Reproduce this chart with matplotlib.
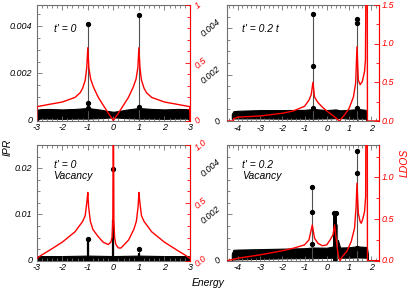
import numpy as np
import matplotlib
matplotlib.use("Agg")
import matplotlib.pyplot as plt
from matplotlib.ticker import MultipleLocator

plt.rcParams['font.family'] = ['Liberation Sans', 'DejaVu Sans']
plt.rcParams['font.style'] = 'italic'

# ---- panel (a): t' = 0 ----
e_ld_a = [-3.0, -2.99, -2.5, -2.0, -1.5, -1.3, -1.2, -1.1, -1.04, -1.0, -0.96, -0.89, -0.78,
          -0.59, -0.39, -0.2, 0.0, 0.2, 0.39, 0.59, 0.78, 0.89, 0.96, 1.0, 1.04, 1.1, 1.2,
          1.3, 1.5, 2.0, 2.5, 2.99, 3.0]
ld_a = [0.0, 0.12, 0.14, 0.16, 0.20, 0.24, 0.28, 0.35, 0.46, 0.63, 0.46, 0.36, 0.29,
        0.20, 0.13, 0.065, 0.0, 0.065, 0.13, 0.20, 0.29, 0.36, 0.46, 0.63, 0.46, 0.35, 0.28,
        0.24, 0.20, 0.16, 0.14, 0.12, 0.0]
e_band_a = [-3.0, -2.95, -2.5, -2.0, -1.5, -1.0, -0.5, -0.2, 0.0, 0.2, 0.5, 1.0, 1.5, 2.0, 2.5, 2.95, 3.0]
hi_a = [0.0003, 0.00048, 0.00049, 0.00047, 0.00049, 0.00053, 0.00046, 0.0004, 0.00037,
        0.0004, 0.00046, 0.00053, 0.00049, 0.00047, 0.00049, 0.00048, 0.0003]
lo_a = [0.0, 0.00008, 0.00008, 0.00007, 0.00008, 0.00008, 0.0001, 0.00012, 0.00013,
        0.00012, 0.0001, 0.00008, 0.00008, 0.00007, 0.00008, 0.00008, 0.0]
spk_e_a = [-1.0, 1.0]
spk_v_a = [0.00408, 0.00449]
dot_e_a = [-1.0, -1.0, -1.0, 1.0, 1.0, -3.0, 3.0]
dot_v_a = [0.00408, 0.00074, 0.00055, 0.00449, 0.00058, 0.0001, 0.0001]

# ---- panel (b): t' = 0.2 t ----
e_ld_b = [-4.5, -4.2, -4.19, -4.0, -3.0, -2.0, -1.5, -1.0, -0.8, -0.7, -0.62, -0.55, -0.4,
          -0.2, 0.0, 0.3, 0.57, 0.8, 1.0, 1.2, 1.3, 1.36, 1.42, 1.5, 1.6, 1.7, 1.74, 1.76,
          1.78, 1.82, 1.83, 2.35]
ld_b = [0.0, 0.0, 0.03, 0.05, 0.065, 0.10, 0.13, 0.19, 0.27, 0.34, 0.50, 0.31, 0.24,
        0.18, 0.13, 0.065, 0.0, 0.08, 0.16, 0.31, 0.49, 0.96, 0.53, 0.47, 0.51, 0.64, 0.79, 1.6,
        3.0, 3.0, 0.0, 0.0]
e_band_b = [-4.27, -4.2, -4.0, -3.0, -2.0, -1.0, -0.6, 0.0, 0.4, 0.6, 1.0, 1.4, 1.75, 1.8]
hi_b = [0.0003, 0.00042, 0.00044, 0.00047, 0.00047, 0.00048, 0.00052, 0.00047, 0.0005,
        0.00046, 0.00048, 0.00052, 0.00048, 0.0003]
lo_b = [0.0001, 0.00011, 0.00011, 0.00011, 0.0001, 0.0001, 0.0001, 0.00011, 0.00012,
        0.00013, 0.0001, 0.0001, 0.0001, 0.0]
spk_e_b = [-0.62, 1.38]
spk_v_b = [0.00461, 0.00438]
dot_e_b = [-0.62, -0.62, -0.62, 1.38, 1.38, 1.38]
dot_v_b = [0.00461, 0.00237, 0.00055, 0.00438, 0.00424, 0.00055]

# ---- panel (c): t' = 0, vacancy ----
e_ld_c = [-3.0, -2.8, -2.5, -2.0, -1.5, -1.2, -1.1, -1.03, -1.0, -0.97, -0.9, -0.8, -0.6,
          -0.4, -0.2, -0.1, -0.05, -0.02, 0.0, 0.02, 0.05, 0.1, 0.2, 0.3, 0.6, 0.8, 0.9, 0.97,
          1.0, 1.03, 1.1, 1.2, 1.5, 2.0, 2.5, 2.8, 3.0]
ld_c = [0.02, 0.05, 0.09, 0.16, 0.25, 0.34, 0.39, 0.52, 0.59, 0.47, 0.34, 0.27, 0.21,
        0.16, 0.14, 0.16, 0.2, 0.35, 1.5, 0.35, 0.2, 0.14, 0.11, 0.11, 0.18, 0.27, 0.34, 0.47,
        0.59, 0.52, 0.39, 0.34, 0.25, 0.16, 0.09, 0.05, 0.02]
e_band_c = [-3.0, -2.95, -2.0, -1.0, 0.0, 1.0, 2.0, 2.95, 3.0]
hi_c = [0.0003, 0.001, 0.001, 0.0011, 0.001, 0.0011, 0.001, 0.001, 0.0003]
lo_c = [0.0, 0.00015, 0.00015, 0.00015, 0.00015, 0.00015, 0.00015, 0.00015, 0.0]
spk_e_c = [-1.0, 0.0, 1.0]
spk_v_c = [0.0046, 0.0199, 0.0026]
bar_e_c = [-1.0, 0.0, 1.0]
bar_v_c = [0.0042, 0.0087, 0.0016]
dot_e_c = [-1.0, 0.0, 1.0]
dot_v_c = [0.0046, 0.0199, 0.0026]

# ---- panel (d): t' = 0.2, vacancy ----
e_ld_d = [-4.5, -4.2, -4.0, -3.0, -2.0, -1.5, -1.0, -0.8, -0.65, -0.55, -0.4, -0.2, 0.0,
          0.15, 0.28, 0.35, 0.42, 0.5, 0.55, 0.6, 0.7, 0.9, 1.1, 1.25, 1.32, 1.36, 1.42, 1.5,
          1.55, 1.62, 1.7, 1.75, 1.78, 1.82, 1.83, 2.35]
ld_d = [0.0, 0.016, 0.03, 0.07, 0.12, 0.15, 0.19, 0.25, 0.43, 0.27, 0.21, 0.18, 0.19,
        0.25, 0.31, 0.43, 0.27, 0.09, 0.03, 0.0, 0.05, 0.11, 0.23, 0.39, 0.65, 0.93, 0.57, 0.47,
        0.45, 0.50, 0.59, 0.77, 3.0, 3.0, 0.0, 0.0]
e_band_d = [-4.27, -4.2, -4.0, -3.0, -2.0, -1.0, -0.65, 0.0, 0.3, 0.5, 0.6, 1.0, 1.35, 1.8, 1.85]
hi_d = [0.0003, 0.00047, 0.00048, 0.0005, 0.00052, 0.00054, 0.00057, 0.00056, 0.00062,
        0.0009, 0.00057, 0.00058, 0.00062, 0.00059, 0.0003]
lo_d = [0.0, 0.00005, 0.00006, 0.00008, 0.0001, 0.00011, 0.00011, 0.00012, 0.00013,
        0.00013, 0.00013, 0.00013, 0.00014, 0.00013, 0.0]
spk_e_d = [-0.65, 0.45, 1.35]
spk_v_d = [0.00317, 0.0016, 0.00474]
bar_e_d = [0.33, 0.36, 0.39, 0.42]
bar_v_d = [0.00206, 0.002, 0.0019, 0.00206]
dot_e_d = [-0.65, -0.65, -0.65, 0.34, 0.41, 1.35, 1.35, 1.35]
dot_v_d = [0.00317, 0.0021, 0.00074, 0.00206, 0.00206, 0.00474, 0.00377, 0.00057]

W, H = 415, 291
fig = plt.figure(figsize=(W / 100, H / 100), dpi=100)


def box(x0, y0, x1, y1):
    return [x0 / W, 1 - y1 / H, (x1 - x0) / W, (y1 - y0) / H]


GRAY = '#707070'
FS = 6.5


def panel(rect, xlim, xmajor, ylim, yticks, ylabels, rylim, rticks, rlabels, rminor,
          yminor, left_rot, right_rot):
    ax = fig.add_axes(rect)
    ax.set_xlim(*xlim)
    ax.set_ylim(*ylim)
    ax.set_xticks(xmajor)
    ax.set_xticklabels([str(v) if v >= 0 else '-' + str(-v) for v in xmajor])
    ax.xaxis.set_minor_locator(MultipleLocator(0.2))
    ax.set_yticks(yticks)
    ax.set_yticklabels(ylabels, rotation=left_rot, ha='right', va='center')
    ax.yaxis.set_minor_locator(MultipleLocator(yminor))
    for s in ax.spines.values():
        s.set_color(GRAY)
        s.set_linewidth(0.8)
    ax.tick_params(which='both', direction='in', top=True, right=False, color=GRAY,
                   labelsize=FS, width=0.6)
    ax.tick_params(which='major', length=3.5)
    ax.tick_params(which='minor', length=2)
    ax.tick_params(axis='x', pad=2)
    ax.tick_params(axis='y', pad=3)

    axr = ax.twinx()
    axr.set_ylim(*rylim)
    axr.set_yticks(rticks)
    axr.set_yticklabels(rlabels, rotation=right_rot, ha='left', va='center')
    axr.yaxis.set_minor_locator(MultipleLocator(rminor))
    for k in ('left', 'top', 'bottom'):
        axr.spines[k].set_visible(False)
    axr.spines['right'].set_color('red')
    axr.spines['right'].set_linewidth(0.8)
    axr.tick_params(which='both', direction='in', color='red', labelcolor='red',
                    labelsize=FS, width=0.6, pad=2)
    axr.tick_params(which='major', length=3.5)
    axr.tick_params(which='minor', length=2)
    return ax, axr


ax_a, r_a = panel(box(36.7, 5, 190, 120.5), (-3, 3), [-3, -2, -1, 0, 1, 2, 3],
                  (0, 0.0049), [0, 0.002, 0.004], ['0', '0.002', '0.004'],
                  (0, 1), [0, 0.5, 1], ['0', '0.5', '1'], 0.1, 0.0005, 0, 40)
ax_b, r_b = panel(box(226.7, 5, 379, 121), (-4.5, 2.35), [-4, -3, -2, -1, 0, 1, 2],
                  (0, 0.005), [0, 0.002, 0.004], ['0', '0.002', '0.004'],
                  (0, 1.5), [0, 0.5, 1.0, 1.5], ['0.0', '0.5', '1.0', '1.5'], 0.25, 0.0005, 40, 0)
ax_c, r_c = panel(box(36.7, 145, 190, 260.7), (-3, 3), [-3, -2, -1, 0, 1, 2, 3],
                  (0, 0.025), [0, 0.01, 0.02], ['0', '0.01', '0.02'],
                  (0, 1.0), [0, 0.5, 1.0], ['0.0', '0.5', '1.0'], 0.1, 0.0025, 0, 40)
ax_d, r_d = panel(box(226.7, 145, 379, 260.7), (-4.5, 2.35), [-4, -3, -2, -1, 0, 1, 2],
                  (0, 0.005), [0, 0.002, 0.004], ['0', '0.002', '0.004'],
                  (0, 1.39), [0, 0.5, 1.0], ['0.0', '0.5', '1.0'], 0.25, 0.0005, 40, 0)

for ax, eb, lo, hi, se, sv, de, dv in [
        (ax_a, e_band_a, lo_a, hi_a, spk_e_a, spk_v_a, dot_e_a, dot_v_a),
        (ax_b, e_band_b, lo_b, hi_b, spk_e_b, spk_v_b, dot_e_b, dot_v_b),
        (ax_c, e_band_c, lo_c, hi_c, spk_e_c, spk_v_c, dot_e_c, dot_v_c),
        (ax_d, e_band_d, lo_d, hi_d, spk_e_d, spk_v_d, dot_e_d, dot_v_d)]:
    ax.vlines(se, 0, sv, color='#505050', lw=0.8)
    ax.fill_between(eb, lo, hi, color='black', lw=0.8, edgecolor='black')
    ax.plot(de, dv, 'o', color='black', ms=2.8)

ax_c.vlines(bar_e_c, 0, bar_v_c, color='black', lw=1.6)
ax_d.vlines(bar_e_d, 0, bar_v_d, color='black', lw=1.4)

for r, e, v in [(r_a, e_ld_a, ld_a), (r_b, e_ld_b, ld_b), (r_c, e_ld_c, ld_c), (r_d, e_ld_d, ld_d)]:
    r.plot(e, v, color='red', lw=1.0, clip_on=True)

tfs = 7.5
ax_a.text(0.11, 0.79, "t' = 0", transform=ax_a.transAxes, fontsize=tfs, va='center')
ax_b.text(0.10, 0.79, "t' = 0.2 t", transform=ax_b.transAxes, fontsize=tfs, va='center')
ax_c.text(0.11, 0.78, "t' = 0\nVacancy", transform=ax_c.transAxes, fontsize=tfs,
          linespacing=1.1, va='center')
ax_d.text(0.10, 0.78, "t' = 0.2\nVacancy", transform=ax_d.transAxes, fontsize=tfs,
          linespacing=1.1, va='center')

fig.text(8 / W, 1 - 147 / H, 'IPR', rotation=90, ha='center', va='center', fontsize=tfs)
fig.text(405 / W, 1 - 163 / H, 'LDOS', rotation=90, ha='center', va='center',
         fontsize=tfs, color='red')
fig.text(208 / W, 1 - 283 / H, 'Energy', ha='center', va='center', fontsize=tfs)

fig.savefig('out.png', dpi=100)
